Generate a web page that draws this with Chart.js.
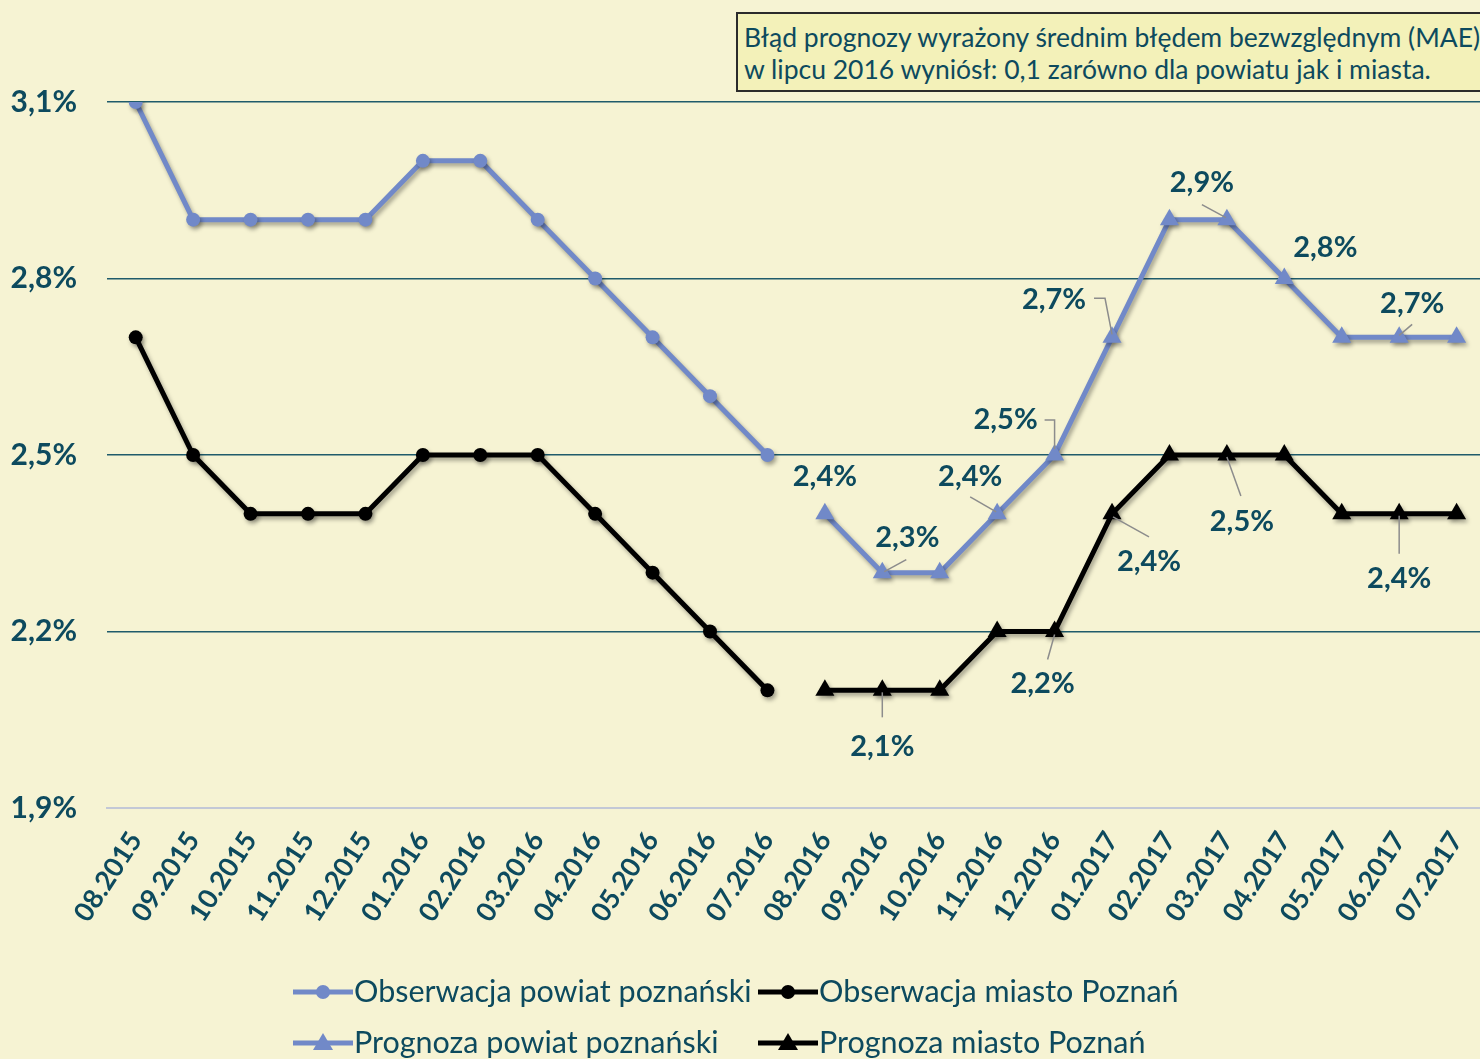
<!DOCTYPE html>
<html>
<head>
<meta charset="utf-8">
<script src="https://cdn.jsdelivr.net/npm/chart.js@4/dist/chart.umd.min.js"></script>
<style>
  html, body { margin: 0; padding: 0; background: #f6f3d3; overflow: hidden; }
  #wrap { position: relative; width: 1480px; height: 1059px; overflow: hidden; }
  #chart { position: absolute; left: 0; top: 0; }
  #note {
    position: absolute; left: 736px; top: 12px; width: 760px; height: 80px;
    background: #f3f1b9; border: 2px solid #2b2b2b; box-sizing: border-box;
    font-family: Lato, "Open Sans", sans-serif; font-size: 26.5px; line-height: 32px;
    color: #0d4a5e; padding: 7px 0 0 6px; white-space: nowrap;
  }
</style>
</head>
<body>
<div id="wrap">
  <canvas id="chart" width="1502" height="1059"></canvas>
  <div id="note">Błąd prognozy wyrażony średnim błędem bezwzględnym (MAE)<br>w lipcu 2016 wyniósł: 0,1 zarówno dla powiatu jak i miasta.</div>
</div>
<script>
const months = ['08.2015', '09.2015', '10.2015', '11.2015', '12.2015', '01.2016', '02.2016', '03.2016',
    '04.2016', '05.2016', '06.2016', '07.2016', '08.2016', '09.2016', '10.2016', '11.2016', '12.2016',
    '01.2017', '02.2017', '03.2017', '04.2017', '05.2017', '06.2017', '07.2017'];

const obsPowiat = [3.1, 2.9, 2.9, 2.9, 2.9, 3.0, 3.0, 2.9, 2.8, 2.7, 2.6, 2.5,
    null, null, null, null, null, null, null, null, null, null, null, null];
const obsMiasto = [2.7, 2.5, 2.4, 2.4, 2.4, 2.5, 2.5, 2.5, 2.4, 2.3, 2.2, 2.1,
    null, null, null, null, null, null, null, null, null, null, null, null];
const progPowiat = [null, null, null, null, null, null, null, null, null, null, null, null,
    2.4, 2.3, 2.3, 2.4, 2.5, 2.7, 2.9, 2.9, 2.8, 2.7, 2.7, 2.7];
const progMiasto = [null, null, null, null, null, null, null, null, null, null, null, null,
    2.1, 2.1, 2.1, 2.2, 2.2, 2.4, 2.5, 2.5, 2.5, 2.4, 2.4, 2.4];

const yTicks = [1.9, 2.2, 2.5, 2.8, 3.1];

const seriesNames = ['Obserwacja powiat poznański', 'Obserwacja miasto Poznań',
    'Prognoza powiat poznański', 'Prognoza miasto Poznań'];

const BLUE = '#7189c8';
const BLACK = '#000000';
const TEXT = '#0d4a5e';
const FONT = 'Lato, "Open Sans", sans-serif';

const fmt = v => v.toFixed(1).replace('.', ',') + '%';

// which points get a value label, where the text goes and the leader line (offsets from the point)
const pointLabels = [
    { ds: 2, i: 12, dx: 0, dy: -37 },
    { ds: 2, i: 13, dx: 25, dy: -35, lead: [[24, -13], [2, -1]] },
    { ds: 2, i: 15, dx: -27, dy: -37, lead: [[-27, -17], [-1, -2]] },
    { ds: 2, i: 16, dx: -49, dy: -35, lead: [[-10, -35], [0, -35], [0, -6]] },
    { ds: 2, i: 17, dx: -58, dy: -38, lead: [[-18, -39], [-7, -39], [0, -3]] },
    { ds: 2, i: 19, dx: -25, dy: -37, lead: [[-25, -15], [-1, -2]] },
    { ds: 2, i: 20, dx: 41, dy: -31 },
    { ds: 2, i: 22, dx: 13, dy: -34, lead: [[13, -13], [0, -2]] },
    { ds: 3, i: 13, dx: 0, dy: 56, lead: [[0, 2], [0, 27]] },
    { ds: 3, i: 16, dx: -12, dy: 52, lead: [[0, 3], [-7, 28]] },
    { ds: 3, i: 17, dx: 37, dy: 48, lead: [[1, 3], [37, 23]] },
    { ds: 3, i: 19, dx: 15, dy: 67, lead: [[0, 2], [14, 41]] },
    { ds: 3, i: 22, dx: 0, dy: 65, lead: [[0, 2], [0, 40]] }
];

const shadowPlugin = {
    id: 'shadow',
    beforeDatasetDraw(chart) {
        const ctx = chart.ctx;
        ctx.save();
        ctx.shadowColor = 'rgba(0,0,0,0.35)';
        ctx.shadowBlur = 4;
        ctx.shadowOffsetX = 2;
        ctx.shadowOffsetY = 3;
    },
    afterDatasetDraw(chart) {
        chart.ctx.restore();
    }
};

const labelPlugin = {
    id: 'pointLabels',
    afterDatasetsDraw(chart) {
        const ctx = chart.ctx;
        ctx.save();
        pointLabels.forEach(l => {
            const el = chart.getDatasetMeta(l.ds).data[l.i];
            const v = chart.data.datasets[l.ds].data[l.i];
            if (!el || v == null) return;
            if (l.lead) {
                ctx.strokeStyle = '#8c8c8c';
                ctx.lineWidth = 1.5;
                ctx.beginPath();
                l.lead.forEach((p, k) => {
                    if (k === 0) ctx.moveTo(el.x + p[0], el.y + p[1]);
                    else ctx.lineTo(el.x + p[0], el.y + p[1]);
                });
                ctx.stroke();
            }
            ctx.fillStyle = TEXT;
            ctx.font = 'bold 29px ' + FONT;
            ctx.textAlign = 'center';
            ctx.textBaseline = 'middle';
            ctx.fillText(fmt(v), el.x + l.dx, el.y + l.dy);
        });
        ctx.restore();
    }
};

// legend in two fixed columns, like the original
const legendPlugin = {
    id: 'gridLegend',
    afterDraw(chart) {
        const ctx = chart.ctx;
        const cols = [293, 758];
        const rows = [992, 1043];
        ctx.save();
        chart.data.datasets.forEach((ds, k) => {
            const x = cols[k % 2];
            const y = rows[Math.floor(k / 2)];
            ctx.strokeStyle = ds.borderColor;
            ctx.lineWidth = 5;
            ctx.beginPath();
            ctx.moveTo(x, y);
            ctx.lineTo(x + 60, y);
            ctx.stroke();
            ctx.fillStyle = ds.borderColor;
            ctx.beginPath();
            if (ds.pointStyle === 'triangle') {
                ctx.moveTo(x + 30, y - 10);
                ctx.lineTo(x + 40, y + 7);
                ctx.lineTo(x + 20, y + 7);
                ctx.closePath();
            } else {
                ctx.arc(x + 30, y, 7, 0, Math.PI * 2);
            }
            ctx.fill();
            ctx.fillStyle = TEXT;
            ctx.font = '30.5px ' + FONT;
            ctx.textAlign = 'left';
            ctx.textBaseline = 'middle';
            ctx.fillText(ds.label, x + 61, y);
        });
        ctx.restore();
    }
};

function makeSet(label, data, color, style) {
    return {
        label: label,
        data: data,
        borderColor: color,
        backgroundColor: color,
        borderWidth: 5,
        pointStyle: style,
        pointRadius: style === 'triangle' ? 11 : 7,
        pointBorderWidth: 0,
        pointHoverRadius: style === 'triangle' ? 11 : 7,
        spanGaps: false,
        tension: 0
    };
}

new Chart(document.getElementById('chart'), {
    type: 'line',
    data: {
        labels: months,
        datasets: [
            makeSet(seriesNames[0], obsPowiat, BLUE, 'circle'),
            makeSet(seriesNames[1], obsMiasto, BLACK, 'circle'),
            makeSet(seriesNames[2], progPowiat, BLUE, 'triangle'),
            makeSet(seriesNames[3], progMiasto, BLACK, 'triangle')
        ]
    },
    options: {
        responsive: false,
        animation: false,
        layout: { padding: { top: 102, left: 0, right: 0, bottom: 0 } },
        plugins: {
            legend: { display: false },
            tooltip: { enabled: false }
        },
        scales: {
            x: {
                offset: true,
                grid: { display: false, drawTicks: false },
                border: { display: true, color: '#c3c8d6', width: 2 },
                ticks: {
                    minRotation: 57, maxRotation: 57, padding: 18,
                    color: TEXT, font: { family: FONT, size: 27, weight: 'bold' }
                },
                afterFit(scale) { scale.height = 251; }
            },
            y: {
                min: 1.9, max: 3.1,
                afterBuildTicks(scale) { scale.ticks = yTicks.map(v => ({ value: v })); },
                grid: {
                    drawTicks: false,
                    color: ctx => ctx.tick && ctx.tick.value === 1.9 ? 'rgba(0,0,0,0)' : '#1f5b6b',
                    lineWidth: 1.5
                },
                border: { display: false },
                ticks: {
                    padding: 30,
                    color: TEXT,
                    font: { family: FONT, size: 30, weight: 'bold' },
                    callback: v => fmt(v)
                },
                afterFit(scale) { scale.width = 107; }
            }
        }
    },
    plugins: [shadowPlugin, labelPlugin, legendPlugin]
});
</script>
</body>
</html>
